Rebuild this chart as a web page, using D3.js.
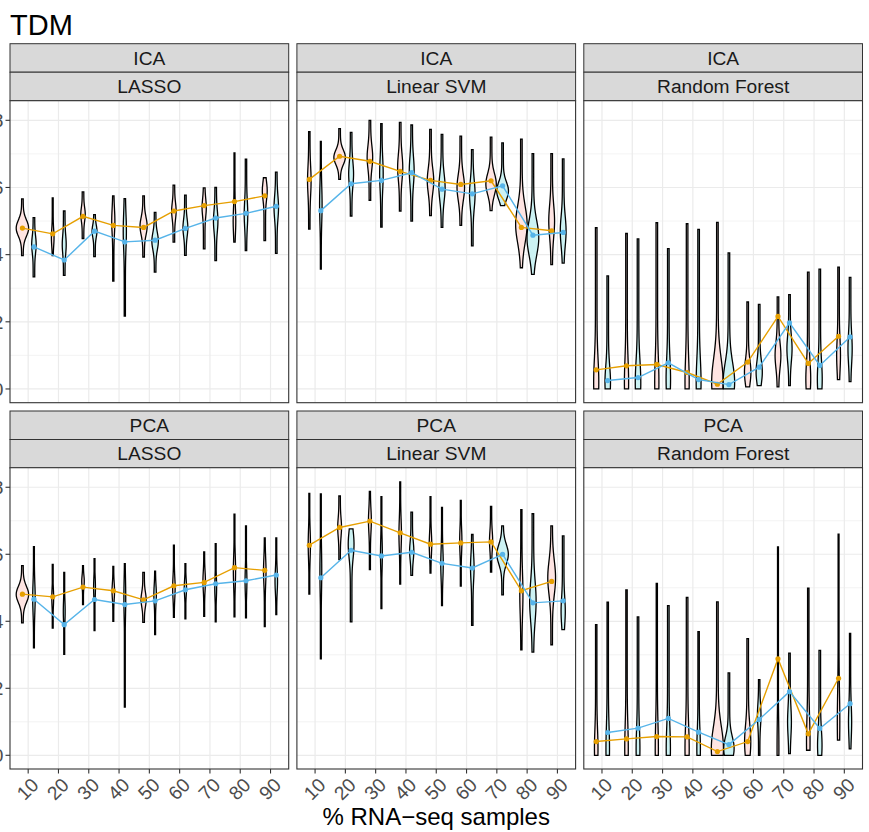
<!DOCTYPE html>
<html><head><meta charset="utf-8">
<script src="https://cdn.jsdelivr.net/npm/d3@7"></script>
<style>body{margin:0;background:#fff} svg{display:block;font-family:"Liberation Sans",Arial,Helvetica,sans-serif}</style>
</head><body><svg id="c" width="869" height="832"></svg>
<script>
const categories = ["10","20","30","40","50","60","70","80","90"];
const methods = ["ICA","PCA"];
const classifiers = ["LASSO","Linear SVM","Random Forest"];
const yTicks = [0, 0.2, 0.4, 0.6, 0.8];
const yMinor = [0.1, 0.3, 0.5, 0.7];
const yTickLabels = ["0.0","0.2","0.4","0.6","0.8"];

// mean lines (A = orange, B = blue)
const meanIcaLassoA = [0.479,0.462,0.514,0.487,0.481,0.530,0.546,0.558,0.575];
const meanIcaLassoB = [0.423,0.384,0.470,0.438,0.443,0.478,0.509,0.523,0.544];
const meanIcaSvmA   = [0.624,0.693,0.678,0.648,0.621,0.609,0.620,0.481,0.471];
const meanIcaSvmB   = [0.531,0.611,0.621,0.644,0.595,0.581,0.605,0.458,0.466];
const meanIcaRfA    = [0.057,0.069,0.073,0.049,0.014,0.080,0.216,0.076,0.157];
const meanIcaRfB    = [0.025,0.034,0.078,0.028,0.013,0.065,0.197,0.070,0.155];
const meanPcaLassoA = [0.481,0.473,0.502,0.491,0.464,0.506,0.516,0.560,0.552];
const meanPcaLassoB = [0.466,0.390,0.465,0.450,0.461,0.494,0.512,0.521,0.538];
const meanPcaSvmA   = [0.627,0.680,0.699,0.664,0.630,0.634,0.637,0.491,0.519];
const meanPcaSvmB   = [0.530,0.612,0.595,0.606,0.573,0.559,0.600,0.455,0.461];
const meanPcaRfA    = [0.041,0.049,0.056,0.055,0.011,0.041,0.288,0.064,0.230];
const meanPcaRfB    = [0.068,0.081,0.110,0.069,0.032,0.107,0.190,0.080,0.154];

// violins: [min, max, mode, relative peak density]
const vioIcaLassoA = [[.397,.566,.479,1.0],[.397,.569,.45,.26],[.448,.587,.52,.4],[.321,.575,.50,.3],[.393,.575,.485,.6],[.437,.607,.53,.4],[.417,.599,.54,.38],[.437,.703,.50,.26],[.442,.629,.59,.43]];
const vioIcaLassoB = [[.334,.510,.43,.4],[.338,.530,.43,.36],[.394,.519,.47,.43],[.217,.567,.47,.3],[.348,.526,.44,.55],[.398,.577,.48,.43],[.382,.600,.50,.4],[.412,.684,.52,.33],[.404,.646,.54,.4]];
const vioIcaSvmA = [[.476,.766,.62,.33],[.624,.775,.69,.93],[.562,.800,.69,.48],[.530,.794,.66,.45],[.516,.773,.62,.55],[.487,.753,.60,.63],[.531,.750,.61,.85],[.361,.744,.49,.93],[.370,.701,.50,.5]];
const vioIcaSvmB = [[.357,.737,.55,.25],[.515,.764,.64,.43],[.482,.790,.64,.33],[.500,.786,.65,.43],[.481,.758,.60,.53],[.426,.713,.58,.48],[.546,.733,.59,.95],[.341,.701,.45,.95],[.375,.685,.47,.5]];
const vioIcaRfA = [[0,.480,.02,.45],[0,.463,.02,.38],[0,.495,.02,.38],[0,.492,.02,.38],[0,.496,.02,.93],[.006,.259,.05,.55],[.006,.274,.10,.5],[0,.348,.03,.43],[.028,.363,.10,.35]];
const vioIcaRfB = [[0,.337,.02,.48],[0,.447,.02,.48],[0,.418,.03,.4],[0,.475,.02,.43],[0,.405,.02,.93],[.010,.252,.05,.53],[.010,.281,.12,.45],[0,.357,.03,.43],[.022,.332,.12,.38]];
const vioPcaLassoA = [[.395,.566,.48,1.0],[.380,.570,.47,.2],[.450,.566,.52,.25],[.400,.564,.49,.25],[.397,.546,.465,.45],[.412,.627,.50,.25],[.415,.607,.52,.25],[.413,.720,.55,.23],[.384,.649,.55,.25]];
const vioPcaLassoB = [[.321,.623,.47,.25],[.301,.546,.43,.2],[.372,.587,.50,.2],[.144,.572,.47,.2],[.360,.550,.48,.25],[.407,.572,.50,.23],[.398,.632,.50,.2],[.410,.685,.52,.2],[.420,.649,.52,.25]];
const vioPcaSvmA = [[.481,.782,.63,.23],[.584,.774,.68,.35],[.554,.788,.70,.28],[.511,.816,.66,.25],[.544,.772,.63,.25],[.505,.761,.64,.23],[.547,.743,.64,.3],[.315,.733,.48,.3],[.330,.685,.53,.65]];
const vioPcaSvmB = [[.288,.780,.55,.2],[.398,.676,.63,.5],[.438,.772,.60,.2],[.537,.726,.61,.38],[.447,.740,.57,.25],[.388,.659,.56,.33],[.479,.685,.60,.93],[.308,.721,.46,.55],[.375,.655,.43,.38]];
const vioPcaRfA = [[0,.390,.02,.33],[0,.494,.02,.33],[0,.513,.02,.3],[0,.471,.02,.38],[0,.458,.02,.98],[0,.348,.04,.53],[0,.622,.02,.2],[.015,.499,.04,.33],[.045,.660,.10,.25]];
const vioPcaRfB = [[0,.457,.02,.33],[0,.413,.02,.35],[0,.447,.02,.38],[0,.369,.02,.33],[0,.246,.02,.85],[0,.226,.12,.33],[.005,.305,.10,.35],[0,.313,.03,.4],[.019,.364,.10,.3]];

const panelData = [
  [[vioIcaLassoA, vioIcaLassoB, meanIcaLassoA, meanIcaLassoB],
   [vioIcaSvmA, vioIcaSvmB, meanIcaSvmA, meanIcaSvmB],
   [vioIcaRfA, vioIcaRfB, meanIcaRfA, meanIcaRfB]],
  [[vioPcaLassoA, vioPcaLassoB, meanPcaLassoA, meanPcaLassoB],
   [vioPcaSvmA, vioPcaSvmB, meanPcaSvmA, meanPcaSvmB],
   [vioPcaRfA, vioPcaRfB, meanPcaRfA, meanPcaRfB]]
];

const fills = ["#FEE4E2", "#CCF2F3"];
const lineColors = ["#E69F00", "#56B4E9"];

const svg = d3.select("#c");
const left = 10, right = 862.5, gap = 8.2;
const pw = (right - left - 2 * gap) / 3;
const rows = [{stripTop: 43.7, top: 100.7, bottom: 402.7}, {stripTop: 411, top: 467.7, bottom: 769}];
const stripH = 28.5;
const dodge = 0.19;

svg.append("text").attr("x", 10).attr("y", 34.5).attr("font-size", 29).attr("fill", "#000").text("TDM");

rows.forEach((r, ri) => {
  const y = d3.scaleLinear().domain([-0.0409, 0.8584]).range([r.bottom, r.top]);
  classifiers.forEach((cl, ci) => {
    const x0 = left + ci * (pw + gap);
    const x = d3.scalePoint().domain(categories).range([x0, x0 + pw]).padding(0.6);
    const step = x.step();
    const w = d3.scaleLinear().domain([0, 1]).range([0, 0.218 * step]);
    const hw = h => Math.max(0.45, w(h) - 0.4);
    const g = svg.append("g");
    // strips
    [methods[ri], cl].forEach((lab, si) => {
      const sy = r.stripTop + si * stripH;
      g.append("rect").attr("x", x0).attr("y", sy).attr("width", pw).attr("height", stripH)
        .attr("fill", "#D9D9D9").attr("stroke", "#333333").attr("stroke-width", 1);
      g.append("text").attr("x", x0 + pw / 2).attr("y", sy + stripH / 2).attr("dy", "0.35em")
        .attr("text-anchor", "middle").attr("font-size", 19.2).attr("fill", "#1A1A1A").text(lab);
    });
    // grid
    g.append("rect").attr("x", x0).attr("y", r.top).attr("width", pw).attr("height", r.bottom - r.top).attr("fill", "#fff");
    yMinor.forEach(v => g.append("line").attr("x1", x0).attr("x2", x0 + pw).attr("y1", y(v)).attr("y2", y(v))
      .attr("stroke", "#EBEBEB").attr("stroke-width", 0.6));
    yTicks.forEach(v => g.append("line").attr("x1", x0).attr("x2", x0 + pw).attr("y1", y(v)).attr("y2", y(v))
      .attr("stroke", "#EBEBEB").attr("stroke-width", 1.2));
    categories.forEach(c => g.append("line").attr("x1", x(c)).attr("x2", x(c)).attr("y1", r.top).attr("y2", r.bottom)
      .attr("stroke", "#EBEBEB").attr("stroke-width", 1.2));

    const [vA, vB, mA, mB] = panelData[ri][ci];
    [vA, vB].forEach((vios, si) => {
      const off = (si === 0 ? -dodge : dodge) * step;
      vios.forEach((d, k) => {
        const [lo, hi, mode, dens] = d;
        const cx = x(categories[k]) + off;
        const s = 0.2 * (hi - lo);
        const tail = Math.min(0.5 * dens, 0.18);
        const pts = d3.range(0, 41).map(i => {
          const v = lo + (hi - lo) * i / 40;
          const h = tail + (dens - tail) * Math.exp(-Math.pow((v - mode) / s, 2));
          return {v, h};
        });
        const area = d3.area().y(p => y(p.v)).x0(p => cx - hw(p.h)).x1(p => cx + hw(p.h)).curve(d3.curveCatmullRom);
        g.append("path").attr("d", area(pts)).attr("fill", fills[si]).attr("stroke", "#000").attr("stroke-width", 1.3);
      });
    });
    [mA, mB].forEach((means, si) => {
      const off = (si === 0 ? -dodge : dodge) * step;
      const line = d3.line().x((d, k) => x(categories[k]) + off).y(d => y(d));
      g.append("path").attr("d", line(means)).attr("fill", "none").attr("stroke", lineColors[si]).attr("stroke-width", 1.4);
      means.forEach((m, k) => g.append("circle").attr("cx", x(categories[k]) + off).attr("cy", y(m)).attr("r", 2.6).attr("fill", lineColors[si]));
    });
    // border
    g.append("rect").attr("x", x0).attr("y", r.top).attr("width", pw).attr("height", r.bottom - r.top)
      .attr("fill", "none").attr("stroke", "#333333").attr("stroke-width", 1.1);
    // y axis on first column
    if (ci === 0) {
      yTicks.forEach((v, i) => {
        g.append("line").attr("x1", x0 - 4.5).attr("x2", x0).attr("y1", y(v)).attr("y2", y(v)).attr("stroke", "#333333").attr("stroke-width", 1.1);
        g.append("text").attr("x", x0 - 6.5).attr("y", y(v)).attr("dy", "0.35em").attr("text-anchor", "end")
          .attr("font-size", 19.2).attr("fill", "#4D4D4D").text(yTickLabels[i]);
      });
    }
    if (ri === 1) {
      categories.forEach(c => {
        g.append("line").attr("x1", x(c)).attr("x2", x(c)).attr("y1", r.bottom).attr("y2", r.bottom + 4.5).attr("stroke", "#333333").attr("stroke-width", 1.1);
        g.append("text").attr("transform", `translate(${x(c) + 1.5},${r.bottom + 7}) rotate(-45)`)
          .attr("dy", "0.75em").attr("text-anchor", "end").attr("font-size", 19.2).attr("fill", "#4D4D4D").text(c);
      });
    }
  });
});

svg.append("text").attr("x", left + (right - left) / 2).attr("y", 825).attr("text-anchor", "middle")
  .attr("font-size", 24).attr("fill", "#000").text("% RNA\u2212seq samples");
</script></body></html>
